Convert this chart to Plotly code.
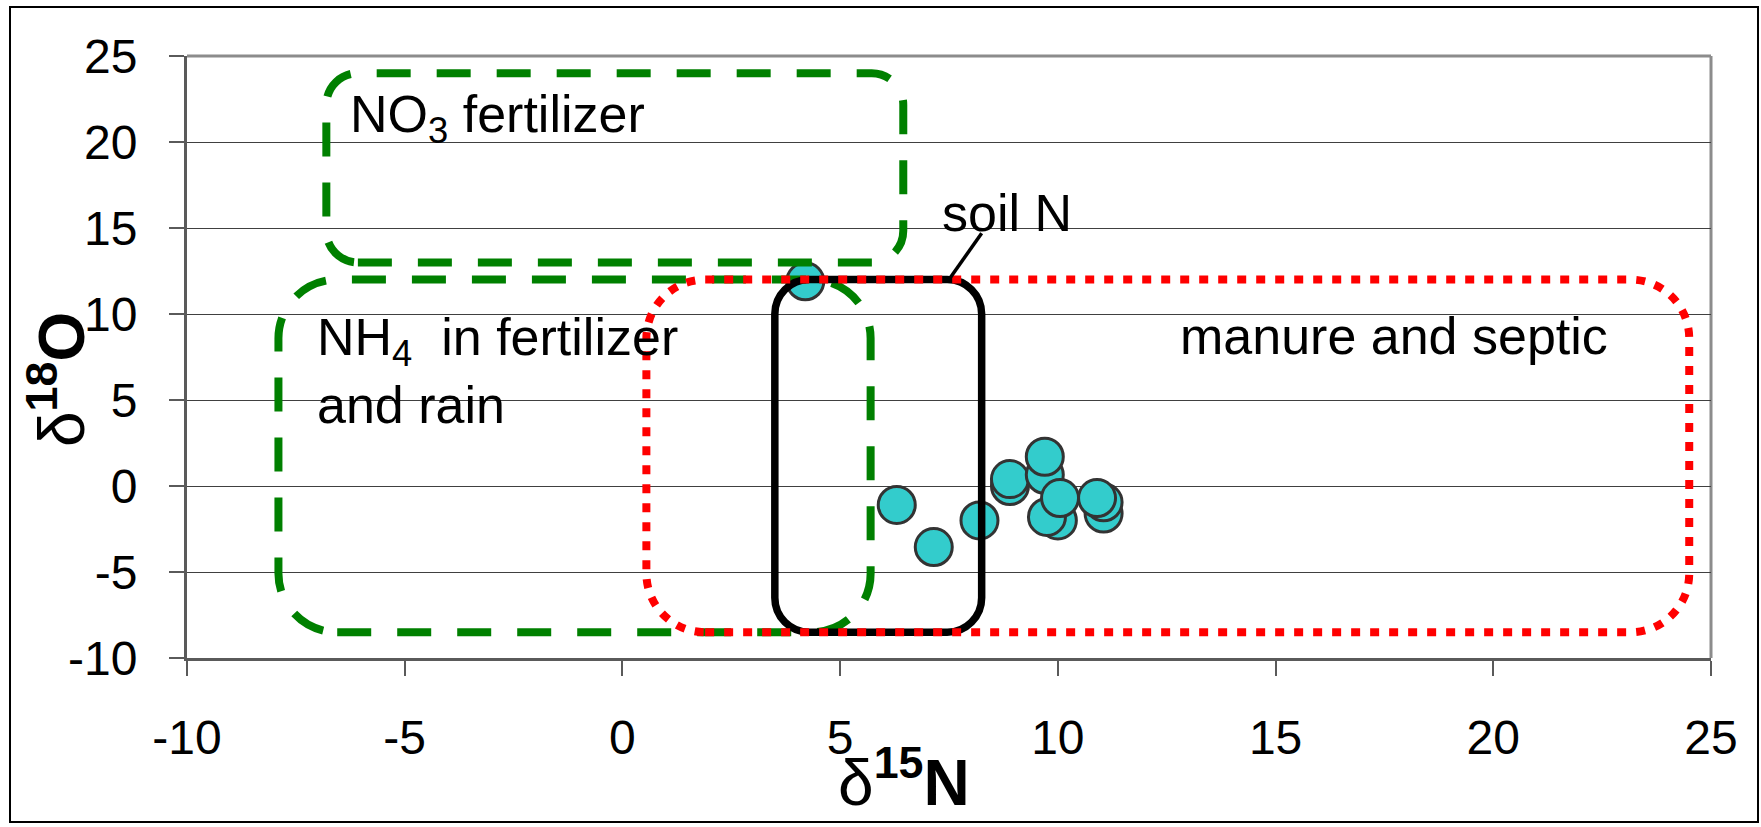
import plotly.graph_objects as go

# ---- data ----
d15N = [4.2, 6.3, 7.15, 8.2, 8.9, 8.9, 9.7, 9.7, 10.0, 9.75, 10.05, 11.05, 11.05, 10.9]
d18O = [11.9, -1.1, -3.55, -2.0, 0.0, 0.4, 0.65, 1.7, -2.0, -1.8, -0.7, -1.6, -0.95, -0.7]

x_ticks = [-10, -5, 0, 5, 10, 15, 20, 25]
y_ticks = [-10, -5, 0, 5, 10, 15, 20, 25]

# source fields (drawing order: green, green, black, red)
box_names = ["NO3 fertilizer", "NH4 in fertilizer and rain", "soil N", "manure and septic"]
box_x0 = [-6.8, -7.9, 3.5, 0.55]
box_x1 = [6.45, 5.7, 8.25, 24.5]
box_y0 = [13.0, -8.5, -8.5, -8.5]
box_y1 = [24.0, 12.0, 12.0, 12.0]

soil_leader_x = [7.5, 8.25]
soil_leader_y = [12.0, 14.7]

# ---- styles ----
box_styles = [
    dict(color="#008000", width=8, dash="34px,26px"),
    dict(color="#008000", width=8, dash="34px,26px"),
    dict(color="#000000", width=7.5, dash="solid"),
    dict(color="#FF0000", width=8, dash="9px,10px"),
]

W, H = 1761, 827
ML, MR, MT, MB = 187, 50, 56, 169
PW, PH = W - ML - MR, H - MT - MB
XR, YR = [-10, 25], [-10, 25]
pxx = PW / (XR[1] - XR[0])
pxy = PH / (YR[1] - YR[0])

FONT = "Arial, Liberation Sans, sans-serif"


def rounded_path(x0, x1, y0, y1):
    r_px = min((x1 - x0) * pxx, (y1 - y0) * pxy) / 6.0
    rx, ry = r_px / pxx, r_px / pxy
    k = 0.5523
    p = []
    p.append(f"M {x0+rx},{y0}")
    p.append(f"L {x1-rx},{y0}")
    p.append(f"C {x1-rx+k*rx},{y0} {x1},{y0+ry-k*ry} {x1},{y0+ry}")
    p.append(f"L {x1},{y1-ry}")
    p.append(f"C {x1},{y1-ry+k*ry} {x1-rx+k*rx},{y1} {x1-rx},{y1}")
    p.append(f"L {x0+rx},{y1}")
    p.append(f"C {x0+rx-k*rx},{y1} {x0},{y1-ry+k*ry} {x0},{y1-ry}")
    p.append(f"L {x0},{y0+ry}")
    p.append(f"C {x0},{y0+ry-k*ry} {x0+rx-k*rx},{y0} {x0+rx},{y0}")
    p.append("Z")
    return " ".join(p)


fig = go.Figure()
fig.add_trace(go.Scatter(
    x=d15N, y=d18O, mode="markers",
    marker=dict(size=37, color="#33CCCC", line=dict(color="#333333", width=3)),
    showlegend=False, hoverinfo="x+y",
))

shapes = []
for x0, x1, y0, y1, st in zip(box_x0, box_x1, box_y0, box_y1, box_styles):
    shapes.append(dict(type="path", xref="x", yref="y", path=rounded_path(x0, x1, y0, y1),
                       line=dict(color=st["color"], width=st["width"], dash=st["dash"]),
                       layer="above"))
shapes.append(dict(type="line", xref="x", yref="y",
                   x0=soil_leader_x[0], y0=soil_leader_y[0], x1=soil_leader_x[1], y1=soil_leader_y[1],
                   line=dict(color="black", width=3.5), layer="above"))
# top and right plot border (lighter gray)
shapes.append(dict(type="line", xref="paper", yref="paper", x0=0, x1=1, y0=1, y1=1,
                   line=dict(color="#8c8c8c", width=3), layer="below"))
shapes.append(dict(type="line", xref="paper", yref="paper", x0=1, x1=1, y0=0, y1=1,
                   line=dict(color="#8c8c8c", width=3), layer="below"))
# outer chart frame
fx0 = (10 - ML) / PW
fx1 = (1758 - ML) / PW
fy1 = (MT + PH - 7) / PH
fy0 = (MT + PH - 822) / PH
shapes.append(dict(type="rect", xref="paper", yref="paper", x0=fx0, x1=fx1, y0=fy0, y1=fy1,
                   line=dict(color="black", width=2), layer="below"))

ann_font = dict(family=FONT, size=52, color="black")
annotations = [
    dict(x=-6.3, y=21.4, xref="x", yref="y", text="NO<sub>3</sub> fertilizer",
         xanchor="left", yanchor="middle", showarrow=False, font=ann_font),
    dict(x=7.3, y=15.9, xref="x", yref="y", text="soil N",
         xanchor="left", yanchor="middle", showarrow=False, font=ann_font),
    dict(x=-7.05, y=6.7, xref="x", yref="y", text="NH<sub>4</sub>\u00a0\u00a0in fertilizer<br>and rain",
         xanchor="left", yanchor="middle", showarrow=False, font=ann_font, align="left"),
    dict(x=12.75, y=8.7, xref="x", yref="y", text="manure and septic",
         xanchor="left", yanchor="middle", showarrow=False, font=ann_font),
    dict(x=(903.5 - ML) / PW, y=(MT + PH - 778) / PH, xref="paper", yref="paper",
         text="δ<b><sup>15</sup>N</b>", showarrow=False, xanchor="center", yanchor="middle",
         font=dict(family=FONT, size=64, color="black")),
    dict(x=(57 - ML) / PW, y=(MT + PH - 380) / PH, xref="paper", yref="paper",
         text="δ<b><sup>18</sup>O</b>", showarrow=False, xanchor="center", yanchor="middle",
         textangle=-90, font=dict(family=FONT, size=64, color="black")),
]

fig.update_layout(
    width=W, height=H,
    margin=dict(l=ML, r=MR, t=MT, b=MB, pad=0),
    paper_bgcolor="white", plot_bgcolor="white",
    shapes=shapes, annotations=annotations,
    font=dict(family=FONT, color="black"),
    xaxis=dict(range=XR, tickvals=x_ticks, ticktext=[str(v) for v in x_ticks],
               showgrid=False, zeroline=False, showline=True, linecolor="#5a5a5a", linewidth=3,
               ticks="outside", ticklen=15, tickwidth=1.5, tickcolor="#5a5a5a",
               tickfont=dict(family=FONT, size=48, color="black"), ticklabelstandoff=20),
    yaxis=dict(range=YR, tickvals=y_ticks, ticktext=[str(v) for v in y_ticks],
               showgrid=True, gridcolor="#404040", gridwidth=1.3, zeroline=False,
               showline=True, linecolor="#5a5a5a", linewidth=3,
               ticks="outside", ticklen=15, tickwidth=1.5, tickcolor="#5a5a5a",
               tickfont=dict(family=FONT, size=48, color="black"), ticklabelstandoff=22),
)

fig.write_html("out.html")
